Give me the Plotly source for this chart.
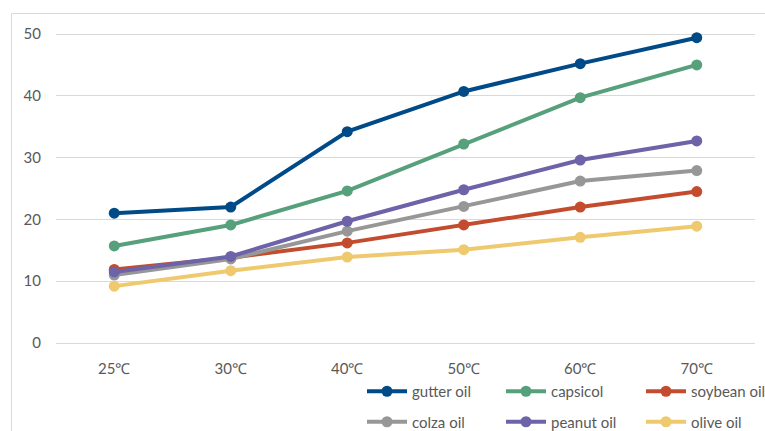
import plotly.graph_objects as go

# Temperatures (x categories)
temps = ["25℃", "30℃", "40℃", "50℃", "60℃", "70℃"]

# Measured values per oil type
gutter_oil = [21.0, 22.0, 34.2, 40.7, 45.2, 49.4]
capsicol = [15.7, 19.1, 24.6, 32.2, 39.7, 45.0]
soybean_oil = [11.9, 13.8, 16.2, 19.1, 22.0, 24.5]
colza_oil = [11.0, 13.6, 18.1, 22.1, 26.2, 27.9]
peanut_oil = [11.5, 14.0, 19.7, 24.8, 29.6, 32.7]
olive_oil = [9.2, 11.7, 13.9, 15.1, 17.1, 18.9]

y_ticks = [0, 10, 20, 30, 40, 50]

series = [
    ("gutter oil", gutter_oil, "#004b87", "legend"),
    ("capsicol", capsicol, "#56a07c", "legend2"),
    ("soybean oil", soybean_oil, "#c44c2e", "legend3"),
    ("colza oil", colza_oil, "#979797", "legend"),
    ("peanut oil", peanut_oil, "#6c63a8", "legend2"),
    ("olive oil", olive_oil, "#efc96e", "legend3"),
]

FONT = "Lato"
TEXT = "#595959"

fig = go.Figure()
for i, (name, vals, color, leg) in enumerate(series):
    fig.add_trace(go.Scatter(
        x=temps, y=vals, name=name, mode="lines+markers",
        line=dict(color=color, width=4),
        marker=dict(color=color, size=11),
        legend=leg, legendgroup=name,
    ))

W, H = 765, 431
L, R, T, B = 56, 10, 20, 88
pw = W - L - R
ph = H - T - B


def px_x(x):
    return (x - L) / pw


def px_y(y):
    return (H - B - y) / ph


leg_common = dict(
    orientation="v", xanchor="left", yanchor="top",
    font=dict(family=FONT, size=15, color=TEXT),
    bgcolor="rgba(0,0,0,0)", tracegroupgap=8, itemwidth=40,
)

fig.update_layout(
    width=W, height=H,
    margin=dict(l=L, r=R, t=T, b=B, autoexpand=False),
    paper_bgcolor="white", plot_bgcolor="white",
    font=dict(family=FONT, size=15, color=TEXT),
    showlegend=True,
    legend=dict(x=px_x(362), y=px_y(375), **leg_common),
    legend2=dict(x=px_x(501), y=px_y(375), **leg_common),
    legend3=dict(x=px_x(641), y=px_y(375), **leg_common),
    xaxis=dict(
        range=[-0.5, 5.5],
        showgrid=False, zeroline=False, showline=True,
        linecolor="#d9d9d9", linewidth=1,
        ticks="", ticklabelstandoff=12,
        tickfont=dict(family=FONT, size=15, color=TEXT),
    ),
    yaxis=dict(
        range=[0, 50 * ph / 309], tickvals=y_ticks,
        showgrid=True, gridcolor="#d9d9d9", gridwidth=1,
        zeroline=False, showline=False, ticks="",
        ticklabelstandoff=14,
        tickfont=dict(family=FONT, size=15, color=TEXT),
    ),
    shapes=[dict(
        type="rect", xref="paper", yref="paper",
        x0=px_x(11.5), x1=1.2, y0=-1.0, y1=px_y(13.5),
        line=dict(color="#d9d9d9", width=1), layer="below",
    )],
)

fig.write_html("out.html")
